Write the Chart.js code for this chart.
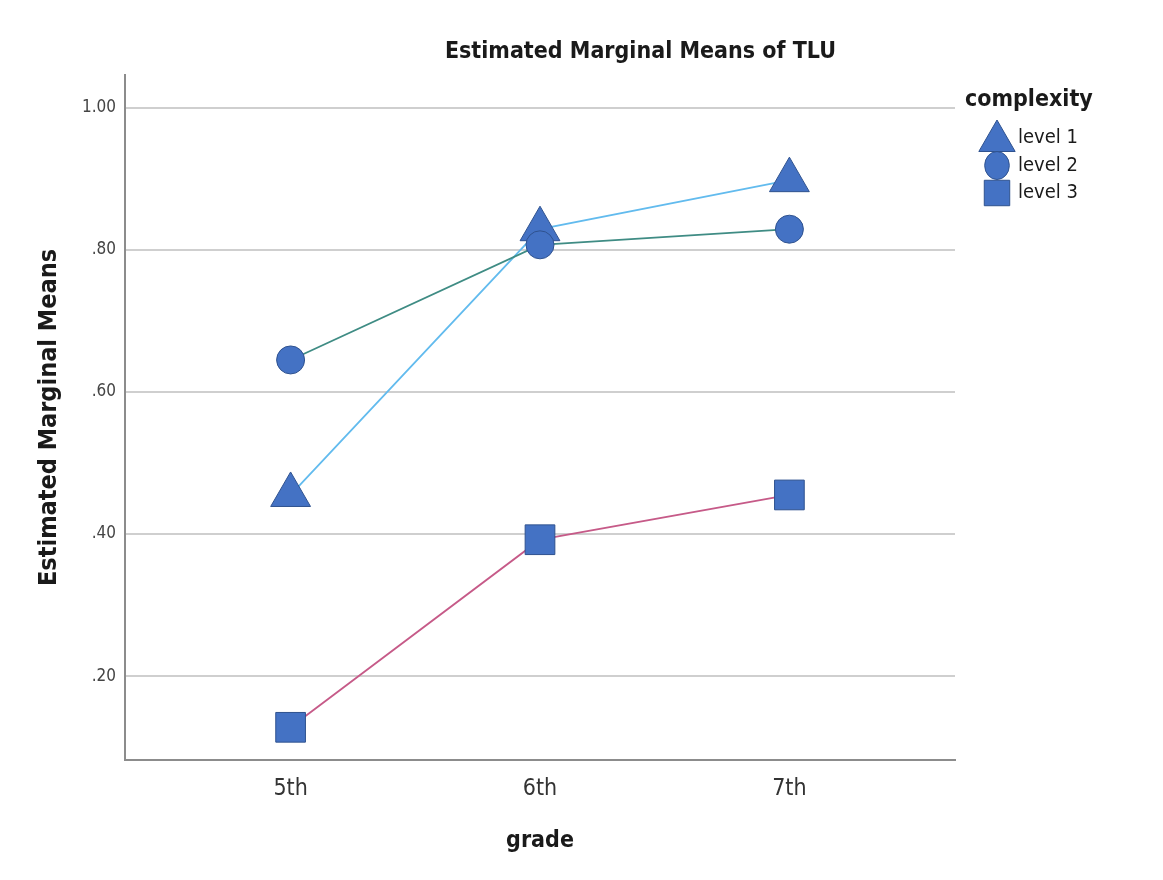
<!DOCTYPE html>
<html>
<head>
<meta charset="utf-8">
<title>Estimated Marginal Means of TLU</title>
<script src="https://cdn.jsdelivr.net/npm/chart.js@4.4.1/dist/chart.umd.min.js"></script>
<style>
  html, body { margin: 0; padding: 0; background: #ffffff; }
  #wrap { width: 1163px; height: 880px; }
</style>
</head>
<body>
<div id="wrap"><canvas id="myChart" width="1163" height="880"></canvas></div>
<script>
const grades = ["5th", "6th", "7th"];
const level1 = [0.455, 0.829, 0.898];
const level2 = [0.645, 0.807, 0.829];
const level3 = [0.128, 0.392, 0.455];
const yTicks = [0.2, 0.4, 0.6, 0.8, 1.0];

const FONT = "'Liberation Sans Narrow', 'DejaVu Sans Condensed', 'Noto Sans', sans-serif";
const markerFill = "#4472c4";
const markerEdge = "#2f528f";

// x as a number so the grades sit where SPSS puts them
const toPoints = (vals) => vals.map((v, i) => ({ x: i + 1, y: v }));

const legendItems = [
  { label: "level 1", style: "triangle" },
  { label: "level 2", style: "circle" },
  { label: "level 3", style: "rect" },
];

function drawMarker(ctx, style, x, y, r) {
  ctx.beginPath();
  if (style === "triangle") {
    for (let k = 0; k < 3; k++) {
      const a = k * 2 * Math.PI / 3;
      const px = x + Math.sin(a) * r, py = y - Math.cos(a) * r;
      k === 0 ? ctx.moveTo(px, py) : ctx.lineTo(px, py);
    }
    ctx.closePath();
  } else if (style === "circle") {
    ctx.ellipse(x, y, r * 0.88, r, 0, 0, Math.PI * 2);
  } else {
    const s = r * Math.SQRT1_2;
    ctx.rect(x - s, y - s, s * 2, s * 2);
  }
  ctx.fillStyle = markerFill;
  ctx.strokeStyle = markerEdge;
  ctx.lineWidth = 1;
  ctx.fill();
  ctx.stroke();
}

// title + legend drawn by hand (SPSS style)
const spssDecor = {
  id: "spssDecor",
  afterDraw(chart) {
    const ctx = chart.ctx;
    const area = chart.chartArea;
    ctx.save();
    ctx.fillStyle = "#1a1a1a";
    ctx.font = "bold 23px " + FONT;
    ctx.textAlign = "center";
    ctx.textBaseline = "middle";
    ctx.fillText("Estimated Marginal Means of TLU", area.left + (area.right - area.left) * 0.621, 52);

    const lx = area.right + 10;
    ctx.textAlign = "left";
    ctx.font = "bold 23px " + FONT;
    ctx.fillText("complexity", lx, 100);

    const sizes = { triangle: 21, circle: 14, rect: 18 };
    legendItems.forEach((item, i) => {
      const cy = 138 + i * 27.5;
      drawMarker(ctx, item.style, 997, cy + (item.style === "triangle" ? 3 : 0), sizes[item.style]);
      ctx.fillStyle = "#1a1a1a";
      ctx.font = "20px " + FONT;
      ctx.textBaseline = "middle";
      ctx.fillText(item.label, 1018, cy);
    });
    ctx.restore();
  },
};

const ctx = document.getElementById("myChart").getContext("2d");

new Chart(ctx, {
  type: "line",
  data: {
    datasets: [
      {
        label: "level 1",
        data: toPoints(level1),
        borderColor: "#62bbee",
        borderWidth: 1.8,
        pointStyle: "triangle",
        pointRadius: 23,
        pointBackgroundColor: markerFill,
        pointBorderColor: markerEdge,
        pointBorderWidth: 1,
        order: 2,
      },
      {
        label: "level 2",
        data: toPoints(level2),
        borderColor: "#3f8c84",
        borderWidth: 1.8,
        pointStyle: "circle",
        pointRadius: 14,
        pointBackgroundColor: markerFill,
        pointBorderColor: markerEdge,
        pointBorderWidth: 1,
        order: 1,
      },
      {
        label: "level 3",
        data: toPoints(level3),
        borderColor: "#c65a88",
        borderWidth: 1.8,
        pointStyle: "rect",
        pointRadius: 21,
        pointBackgroundColor: markerFill,
        pointBorderColor: markerEdge,
        pointBorderWidth: 1,
        order: 3,
      },
    ],
  },
  options: {
    responsive: false,
    animation: false,
    layout: {
      padding: { top: 75, right: 208, left: 0, bottom: 0 },
    },
    plugins: {
      legend: { display: false },
      title: { display: false },
      tooltip: { enabled: false },
    },
    scales: {
      x: {
        type: "linear",
        min: 0.336,
        max: 3.664,
        afterBuildTicks: (scale) => {
          scale.ticks = grades.map((g, i) => ({ value: i + 1 }));
        },
        afterFit: (scale) => {
          scale.height = 120;
        },
        ticks: {
          callback: (value) => grades[value - 1],
          color: "#333333",
          padding: 15,
          font: { family: FONT, size: 23 },
        },
        grid: { display: false, drawTicks: false },
        border: { display: true, color: "#8c8c8c", width: 2 },
        title: {
          display: true,
          text: "grade",
          color: "#1a1a1a",
          font: { family: FONT, size: 23, weight: "bold" },
          padding: { top: 0, bottom: 25 },
        },
      },
      y: {
        min: 0.082,
        max: 1.046,
        afterBuildTicks: (scale) => {
          scale.ticks = yTicks.map((v) => ({ value: v }));
        },
        afterFit: (scale) => {
          scale.width = 125;
        },
        ticks: {
          callback: (value) => value.toFixed(2).replace(/^0/, ""),
          color: "#444444",
          padding: 9,
          font: { family: FONT, size: 17 },
        },
        grid: { color: "#cfcfcf", lineWidth: 2, drawTicks: false },
        border: { display: true, color: "#8c8c8c", width: 2 },
        title: {
          display: true,
          text: "Estimated Marginal Means",
          color: "#1a1a1a",
          font: { family: FONT, size: 25, weight: "bold" },
          padding: { top: 34, bottom: 0 },
        },
      },
    },
  },
  plugins: [spssDecor],
});
</script>
</body>
</html>
